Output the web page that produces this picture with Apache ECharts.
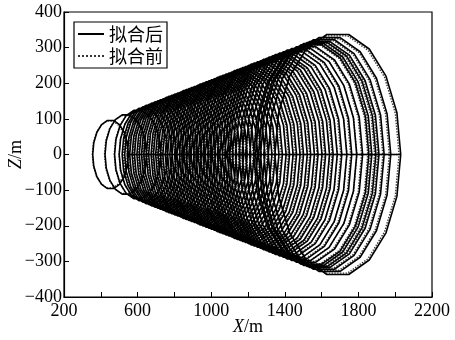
<!DOCTYPE html>
<html>
<head>
<meta charset="utf-8">
<script src="https://cdn.jsdelivr.net/npm/echarts@6/dist/echarts.min.js"></script>
<style>
html,body{margin:0;padding:0;background:#fff;}
#c{width:455px;height:340px;}
</style>
</head>
<body>
<div id="c"></div>
<script>
// Series names
const seriesNames = ['拟合后', '拟合前'];
// Loop centres (X, m) and radii (m) of the spiral
const loopXAfter = [453, 536, 601, 632, 652, 670, 687, 704, 720, 736, 752, 768, 784, 800, 816, 832, 848, 864, 880, 896, 912, 928, 944, 960, 976, 992, 1008, 1024, 1040, 1056, 1072, 1088, 1104, 1120, 1136, 1152, 1168, 1184, 1200, 1216, 1232, 1248, 1264, 1280, 1297, 1314, 1331, 1348, 1365, 1382, 1400, 1421, 1444, 1466, 1489, 1516, 1544, 1557, 1576, 1590, 1613, 1643, 1688];
const loopRAfter = [97, 113, 126, 132, 136, 140, 143, 147, 150, 153, 156, 159, 163, 166, 169, 172, 175, 178, 182, 185, 188, 191, 194, 197, 201, 204, 207, 210, 213, 216, 220, 223, 226, 229, 232, 235, 239, 242, 245, 248, 251, 254, 258, 261, 264, 267, 271, 274, 278, 281, 285, 289, 293, 298, 302, 307, 313, 316, 319, 322, 327, 333, 342];
const loopXBefore = [449, 531, 597, 629, 655, 666, 690, 700, 723, 732, 755, 764, 787, 796, 819, 828, 851, 860, 883, 892, 915, 924, 947, 956, 979, 988, 1011, 1020, 1043, 1052, 1075, 1084, 1107, 1116, 1139, 1148, 1171, 1180, 1203, 1212, 1235, 1244, 1267, 1276, 1300, 1310, 1334, 1344, 1368, 1378, 1403, 1417, 1447, 1462, 1492, 1512, 1540, 1553, 1572, 1586, 1609, 1638, 1683];
const loopRBefore = [95, 111, 124, 130, 134, 138, 141, 145, 148, 151, 154, 157, 161, 164, 167, 170, 173, 176, 180, 183, 186, 189, 192, 195, 199, 202, 205, 208, 211, 214, 218, 221, 224, 227, 230, 233, 237, 240, 243, 246, 249, 252, 256, 259, 262, 265, 269, 272, 276, 279, 283, 287, 291, 296, 300, 305, 311, 313, 316, 319, 324, 330, 338];
// Tick labels
const xTickLabels = [200, 600, 1000, 1400, 1800, 2200];
const yTickLabels = [-400, -300, -200, -100, 0, 100, 200, 300, 400];

const SEG = 18;
function buildPath(xs, rs) {
  const pts = [];
  for (let i = 0; i < xs.length; i++) {
    for (let k = 0; k <= SEG; k++) {
      const t = 2 * Math.PI * k / SEG;
      pts.push([xs[i] + rs[i] * Math.cos(t), rs[i] * Math.sin(t)]);
    }
  }
  return pts;
}

const serif = '"Liberation Serif", "Times New Roman", serif';
const cjk = '"Noto Sans CJK SC", sans-serif';
const chart = echarts.init(document.getElementById('c'), null, {renderer: 'canvas'});
chart.setOption({
  animation: false,
  backgroundColor: '#fff',
  grid: {left: 64, right: 23, top: 12, bottom: 43, outerBoundsMode: 'none', containLabel: false,
    show: true, borderColor: '#000', borderWidth: 1.2, backgroundColor: 'transparent'},
  legend: {
    orient: 'vertical', left: 74, top: 22,
    borderColor: '#000', borderWidth: 1.2, padding: [3, 4, 3, 3],
    itemWidth: 26, itemHeight: 10, itemGap: 4,
    itemStyle: {opacity: 0},
    textStyle: {fontFamily: cjk, fontSize: 18, color: '#000'},
    data: [seriesNames[0], seriesNames[1]]
  },
  xAxis: {
    type: 'value', min: 200, max: 2200, interval: 200,
    name: '{i|X}/m', nameLocation: 'middle', nameGap: 21, nameMoveOverlap: false,
    nameTextStyle: {fontFamily: serif, fontSize: 18, color: '#000', rich: {i: {fontFamily: serif, fontSize: 18, fontStyle: 'italic', color: '#000'}}},
    axisLine: {onZero: false, lineStyle: {color: '#000', width: 1.2}},
    axisTick: {inside: true, length: 5, lineStyle: {color: '#000'}},
    splitLine: {show: false},
    axisLabel: {fontFamily: serif, fontSize: 18, color: '#000', margin: 5,
      formatter: v => xTickLabels.indexOf(v) >= 0 ? String(v) : ''}
  },
  yAxis: {
    type: 'value', min: -400, max: 400, interval: 100,
    name: '{i|Z}/m', nameLocation: 'middle', nameGap: 39, nameRotate: 90, nameMoveOverlap: false,
    nameTextStyle: {fontFamily: serif, fontSize: 18, color: '#000', rich: {i: {fontFamily: serif, fontSize: 18, fontStyle: 'italic', color: '#000'}}},
    axisLine: {onZero: false, lineStyle: {color: '#000', width: 1.2}},
    axisTick: {inside: true, length: 5, lineStyle: {color: '#000'}},
    splitLine: {show: false},
    axisLabel: {fontFamily: serif, fontSize: 18, color: '#000', margin: 2,
      formatter: v => yTickLabels.indexOf(v) >= 0 ? String(v).replace('-', '\u2212') : ''}
  },
  series: [
    {
      name: seriesNames[1], type: 'line', symbol: 'none', z: 2,
      data: buildPath(loopXBefore, loopRBefore),
      lineStyle: {color: '#333', width: 1.4, type: 'dotted'},
      itemStyle: {color: '#333'}
    },
    {
      name: seriesNames[0], type: 'line', symbol: 'none', z: 3,
      data: buildPath(loopXAfter, loopRAfter),
      lineStyle: {color: '#000', width: 1.6, type: 'solid'},
      itemStyle: {color: '#000'}
    }
  ]
});
</script>
</body>
</html>
